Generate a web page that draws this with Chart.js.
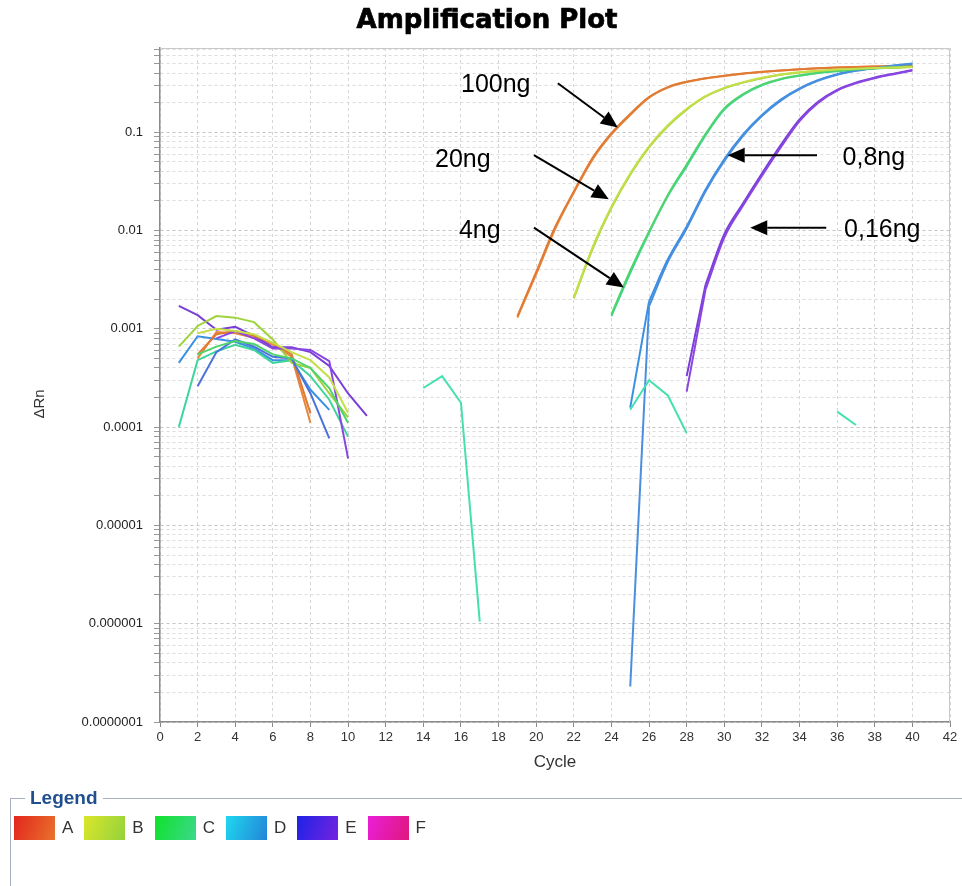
<!DOCTYPE html>
<html>
<head>
<meta charset="utf-8">
<script src="https://cdn.jsdelivr.net/npm/chart.js@4.4.1/dist/chart.umd.min.js"></script>
<style>
  body { margin: 0; background: #fff; font-family: 'Liberation Sans', Arial, sans-serif; }
  #wrap { position: relative; width: 962px; height: 886px; overflow: hidden; }
  #plot { position: absolute; left: 0; top: 0; width: 962px; height: 790px; }
  #legendBox {
    position: absolute; left: 10px; top: 787px; width: 960px; height: 130px;
    box-sizing: border-box; margin: 0; padding: 7px 3px 0 3px;
    border: 1px solid #a7b0bf; border-right: 1px solid #8e97a6;
  }
  #legendBox legend {
    margin-left: 11px; padding: 0 5px; color: #1f4f8f;
    font: bold 19px 'Liberation Sans', Arial, sans-serif;
  }
  .item { display: inline-flex; align-items: center; margin-right: 11px; }
  .swatch { width: 41px; height: 24px; margin-right: 7px; }
  .item span { font-size: 17px; color: #333; }
</style>
</head>
<body>
<div id="wrap">
  <div id="plot"><canvas id="amp"></canvas></div>
  <fieldset id="legendBox"><legend>Legend</legend><div id="items"></div></fieldset>
</div>
<script>
document.addEventListener('DOMContentLoaded', () => {

    // --- data (ΔRn per cycle), each segment starts at the cycle given in the comment ---
    const xTickMax = 42;
    const yMin = 0.0000001;
    const yMax = 0.72;
    const yTickLabels = ['0.0000001', '0.000001', '0.00001', '0.0001', '0.001', '0.01', '0.1'];

    const a1Early = [0.0005, 0.00093, 0.0009, 0.00081, 0.00069, 0.00052, 0.00011];            // 2-8
    const a1Amp = [0.0013, 0.0036, 0.0103, 0.0243, 0.053, 0.095, 0.15, 0.225, 0.285, 0.324, 0.352,
        0.374, 0.394, 0.41, 0.424, 0.437, 0.447, 0.455, 0.461, 0.466, 0.469, 0.472];          // 19-40
    const a2Early = [0.00055, 0.00088, 0.00095, 0.00085, 0.00072, 0.00055, 0.000138];         // 2-8
    const a2Amp = [0.00135, 0.0038, 0.0108, 0.025, 0.055, 0.098, 0.154, 0.228, 0.288, 0.327, 0.355,
        0.377, 0.396, 0.412, 0.426, 0.438, 0.448, 0.456, 0.462, 0.467, 0.47, 0.474];          // 19-40

    const b1Early = [0.00066, 0.00107, 0.00135, 0.0013, 0.00117, 0.00078, 0.00045, 0.0004, 0.00022, 0.000126]; // 1-10
    const b1Amp = [0.00204, 0.0065, 0.017, 0.037, 0.07, 0.115, 0.17, 0.23, 0.28, 0.32, 0.355,
        0.385, 0.405, 0.42, 0.432, 0.441, 0.448, 0.454, 0.46];                                  // 22-40
    const b2Early = [0.0009, 0.001, 0.00095, 0.00088, 0.00072, 0.00058, 0.00048, 0.00032, 0.00014]; // 2-10
    const b2Amp = [0.0021, 0.0068, 0.0175, 0.038, 0.072, 0.118, 0.173, 0.233, 0.283, 0.323, 0.358,
        0.387, 0.407, 0.422, 0.434, 0.443, 0.45, 0.456, 0.462];                                 // 22-40

    const c1Early = [0.0001, 0.00048, 0.00059, 0.00069, 0.00061, 0.00045, 0.00048, 0.00033, 0.00019, 0.00008]; // 1-10
    const c1Amp = [0.00135, 0.0037, 0.0095, 0.0224, 0.045, 0.093, 0.17, 0.24, 0.3, 0.345, 0.375,
        0.4, 0.418, 0.433, 0.446, 0.456, 0.465];                                                // 24-40
    const c2Early = [0.00055, 0.00066, 0.00075, 0.0007, 0.00055, 0.0005, 0.0004, 0.00025, 0.00011]; // 2-10
    const c2Amp = [0.0014, 0.0039, 0.0098, 0.023, 0.047, 0.096, 0.175, 0.245, 0.305, 0.349, 0.378,
        0.403, 0.421, 0.436, 0.449, 0.459, 0.468];                                              // 24-40
    const ntcMid = [0.00025, 0.00033, 0.000177, 0.00000105];                                  // 14-17
    const ntcLate = [0.00015, 0.0003, 0.00021, 0.000087];                                     // 25-28
    const ntcEnd = [0.000144, 0.000105];                                                      // 36-37

    const d1Early = [0.00045, 0.00084, 0.00079, 0.00074, 0.00063, 0.00048, 0.00048, 0.00024, 0.00015]; // 1-9
    const d1Amp = [0.000158, 0.0019, 0.0051, 0.011, 0.026, 0.053, 0.095, 0.15, 0.215, 0.28, 0.34,
        0.39, 0.425, 0.452, 0.477, 0.5];                                                        // 25-40
    const d2Early = [0.00026, 0.00058, 0.00078, 0.00066, 0.00052, 0.0005, 0.00022, 0.000077]; // 2-9
    const d2Amp = [0.00000023, 0.0017, 0.0048, 0.0105, 0.025, 0.051, 0.092, 0.146, 0.21, 0.275, 0.335,
        0.385, 0.422, 0.449, 0.474, 0.495];                                                     // 25-40

    const e1Early = [0.00171, 0.00138, 0.00098, 0.00105, 0.00085, 0.00065, 0.00065, 0.00058, 0.00042, 0.00022, 0.00013]; // 1-11
    const e1Amp = [0.00033, 0.0028, 0.0092, 0.019, 0.038, 0.074, 0.135, 0.205, 0.27, 0.32, 0.36, 0.395, 0.43]; // 28-40
    const e2Early = [0.0008, 0.00095, 0.0008, 0.00063, 0.00063, 0.00061, 0.00047, 0.000048];  // 3-10
    const e2Amp = [0.00023, 0.0025, 0.0085, 0.018, 0.036, 0.07, 0.13, 0.2, 0.265, 0.315, 0.355, 0.39, 0.425]; // 28-40

    // annotations: text, [cycle, ΔRn] of text centre, arrow tail and arrow tip
    const noteText = ['100ng', '20ng', '4ng', '0,8ng', '0,16ng'];
    const noteAt = [[17.85, 0.3], [16.1, 0.052], [17.0, 0.0099], [37.95, 0.0545], [38.4, 0.0101]];
    const arrowFrom = [[21.15, 0.315], [19.88, 0.0584], [19.88, 0.0107], [34.93, 0.0584], [35.42, 0.0107]];
    const arrowTo = [[24.34, 0.1117], [23.86, 0.0208], [24.66, 0.00263], [30.18, 0.0584], [31.38, 0.0107]];

    // legend
    const legendLabels = ['A', 'B', 'C', 'D', 'E', 'F'];
    const legendFrom = ['#e2261e', '#dbe62a', '#0fe22a', '#1fd8ee', '#1e22e6', '#ea1ed8'];
    const legendTo = ['#e8722c', '#94d23c', '#3cd88c', '#2384d8', '#7424e0', '#e0187e'];

    // one dataset per continuous segment; amplification parts drawn smooth
    const seg = (color, start, vals, smooth = false) => ({
        data: vals.map((v, i) => ({ x: start + i, y: v })),
        borderColor: color, backgroundColor: color,
        borderWidth: 2, pointRadius: 0, fill: false,
        tension: 0, cubicInterpolationMode: smooth ? 'monotone' : 'default'
    });
    // first step of a late-rising curve is a straight jump, the rest is smooth
    const rise = (color, start, vals) => [
        seg(color, start, vals.slice(0, 2)),
        seg(color, start + 1, vals.slice(1), true)
    ];

    const datasets = [
        seg('#45dfb0', 14, ntcMid), seg('#45dfb0', 25, ntcLate), seg('#45dfb0', 36, ntcEnd),
        seg('#c6df48', 2, b2Early), seg('#c6df48', 22, b2Amp, true),
        seg('#4fd46c', 2, c2Early), seg('#4fd46c', 24, c2Amp, true),
        seg('#4a72da', 2, d2Early), ...rise('#4a8ee0', 25, d2Amp),
        seg('#8946e0', 3, e2Early), ...rise('#8946e0', 28, e2Amp),
        seg('#e07a34', 2, a2Early), seg('#e07a34', 19, a2Amp, true),
        seg('#9ed43a', 1, b1Early), seg('#9ed43a', 22, b1Amp, true),
        seg('#3fd49c', 1, c1Early), seg('#3fd49c', 24, c1Amp, true),
        seg('#3a90e2', 1, d1Early), ...rise('#3a90e2', 25, d1Amp),
        seg('#7a3ed8', 1, e1Early), ...rise('#7a3ed8', 28, e1Amp),
        seg('#e8873c', 2, a1Early), seg('#e8873c', 19, a1Amp, true)
    ];

    // title, axis title, frame, arrows and labels
    const overlay = {
        id: 'overlay',
        afterDraw(chart) {
            const { ctx } = chart;
            ctx.save();
            ctx.fillStyle = '#000';
            ctx.strokeStyle = '#000';
            ctx.lineWidth = 0.7;
            ctx.font = "bold 26px 'DejaVu Sans', sans-serif";
            ctx.textAlign = 'center';
            ctx.textBaseline = 'middle';
            ctx.fillText('Amplification Plot', 487, 21);
            ctx.strokeText('Amplification Plot', 487, 21);

            ctx.fillStyle = '#333';
            ctx.font = "15px 'Liberation Sans', Arial, sans-serif";
            ctx.translate(40, 404);
            ctx.rotate(-Math.PI / 2);
            ctx.fillText('ΔRn', 0, 0);
            ctx.restore();
        },
        afterDatasetsDraw(chart) {
            const { ctx, chartArea: a, scales: { x, y } } = chart;
            ctx.save();
            ctx.strokeStyle = '#c9c9c9';
            ctx.lineWidth = 1;
            ctx.beginPath();
            ctx.moveTo(a.left, a.top + 0.5);
            ctx.lineTo(a.right - 0.5, a.top + 0.5);
            ctx.lineTo(a.right - 0.5, a.bottom);
            ctx.stroke();

            ctx.fillStyle = '#000';
            ctx.strokeStyle = '#000';
            ctx.font = "25px 'Liberation Sans', Arial, sans-serif";
            ctx.textAlign = 'center';
            ctx.textBaseline = 'middle';
            noteText.forEach((t, i) => {
                ctx.fillText(t, x.getPixelForValue(noteAt[i][0]), y.getPixelForValue(noteAt[i][1]));
            });

            arrowFrom.forEach((from, i) => {
                const x0 = x.getPixelForValue(from[0]), y0 = y.getPixelForValue(from[1]);
                const x1 = x.getPixelForValue(arrowTo[i][0]), y1 = y.getPixelForValue(arrowTo[i][1]);
                const ang = Math.atan2(y1 - y0, x1 - x0);
                const len = 17, half = 7.5;
                const bx = x1 - len * Math.cos(ang), by = y1 - len * Math.sin(ang);
                ctx.lineWidth = 2;
                ctx.beginPath();
                ctx.moveTo(x0, y0);
                ctx.lineTo(bx, by);
                ctx.stroke();
                ctx.beginPath();
                ctx.moveTo(x1, y1);
                ctx.lineTo(bx + half * Math.sin(ang), by - half * Math.cos(ang));
                ctx.lineTo(bx - half * Math.sin(ang), by + half * Math.cos(ang));
                ctx.closePath();
                ctx.fill();
            });
            ctx.restore();
        }
    };

    Chart.defaults.font.family = "'Liberation Sans', Arial, sans-serif";
    Chart.defaults.color = '#333';

    new Chart(document.getElementById('amp'), {
        type: 'line',
        data: { datasets },
        options: {
            responsive: true,
            maintainAspectRatio: false,
            animation: false,
            layout: { padding: { left: 0, right: 12, top: 48, bottom: 0 } },
            plugins: {
                legend: { display: false },
                tooltip: { enabled: false },
                title: { display: false }
            },
            scales: {
                x: {
                    type: 'linear',
                    min: 0,
                    max: xTickMax,
                    afterFit: (s) => { s.height = 68; },
                    ticks: {
                        stepSize: 2,
                        padding: 3,
                        color: '#333',
                        font: { family: "'Liberation Sans Narrow', 'Liberation Sans', sans-serif", size: 13 }
                    },
                    grid: { color: '#d6d6d6', tickColor: '#888', tickLength: 5, tickBorderDash: [] },
                    border: { color: '#8a8a8a', width: 1.5, dash: [3, 3] },
                    title: {
                        display: true, text: 'Cycle', color: '#333',
                        font: { size: 17 }, padding: { top: 0, bottom: 17 }
                    }
                },
                y: {
                    type: 'logarithmic',
                    min: yMin,
                    max: yMax,
                    bounds: 'data',
                    afterFit: (s) => { s.width = 160; },
                    afterBuildTicks: (scale) => {
                        const ticks = [];
                        for (let e = -7; e <= -1; e++) {
                            for (let k = 1; k <= 9; k++) {
                                const v = k * Math.pow(10, e);
                                if (v <= yMax) ticks.push({ value: v, major: k === 1 });
                            }
                        }
                        scale.ticks = ticks;
                    },
                    ticks: {
                        autoSkip: false,
                        padding: 11,
                        color: '#222',
                        font: { size: 13 },
                        callback: (value, index, ticks) => {
                            if (!ticks[index].major) return '';
                            return yTickLabels[Math.round(Math.log10(value)) + 7];
                        }
                    },
                    grid: {
                        color: (c) => (c.tick && c.tick.major ? '#c4c4c4' : '#dcdcdc'),
                        tickColor: '#999',
                        tickLength: 6,
                        tickBorderDash: []
                    },
                    border: { color: '#8a8a8a', width: 1.5, dash: [3, 3] },
                    title: { display: false }
                }
            }
        },
        plugins: [overlay]
    });

    // HTML legend with gradient swatches
    const items = document.getElementById('items');
    legendLabels.forEach((lab, i) => {
        const it = document.createElement('div');
        it.className = 'item';
        const sw = document.createElement('div');
        sw.className = 'swatch';
        sw.style.background = `linear-gradient(110deg, ${legendFrom[i]}, ${legendTo[i]})`;
        const tx = document.createElement('span');
        tx.textContent = lab;
        it.appendChild(sw);
        it.appendChild(tx);
        items.appendChild(it);
    });
});
</script>
</body>
</html>
